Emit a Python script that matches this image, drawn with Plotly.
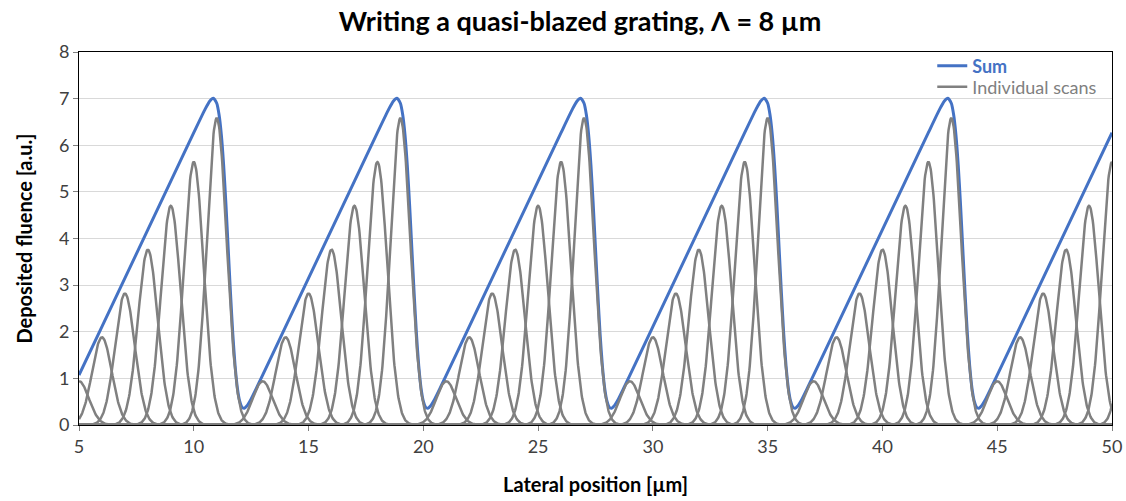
import numpy as np
import plotly.graph_objects as go

# ---- data ----
period_starts = [-3, 5, 13, 21, 29, 37, 45]          # first scan of each period [µm]
scan_offsets = [0, 1, 2, 3, 4, 5, 6]                 # scan positions within a period [µm]
scan_amplitudes = [0.94, 1.88, 2.82, 3.76, 4.70, 5.64, 6.58]  # peak fluence of each scan
scan_sigma = 0.43                                    # Gaussian width of a scan [µm]

# summed fluence profile over one period (offset from period start, value)
sum_offsets = [0, 1, 2, 3, 4, 5, 5.5, 5.7, 5.85, 6.0, 6.1, 6.2, 6.3, 6.4, 6.5,
               6.6, 6.7, 6.8, 6.9, 7.0, 7.1, 7.2, 7.3, 7.5, 7.75]
sum_values = [1.07, 2.11, 3.15, 4.19, 5.23, 6.27, 6.78, 6.95, 7.01, 6.90, 6.66, 6.23,
              5.58, 4.74, 3.78, 2.82, 1.95, 1.27, 0.79, 0.51, 0.38, 0.36, 0.40, 0.56, 0.81]

x_range = [5, 50]
x_ticks = [5, 10, 15, 20, 25, 30, 35, 40, 45, 50]
y_ticks = [0, 1, 2, 3, 4, 5, 6, 7, 8]

# ---- build traces ----
x = np.linspace(x_range[0], x_range[1], 2251)

gx, gy = [], []
for p in period_starts:
    for off, amp in zip(scan_offsets, scan_amplitudes):
        c = p + off
        s = amp * np.exp(-((x - c) ** 2) / (2 * scan_sigma ** 2))
        gx.extend(x.tolist()); gx.append(None)
        gy.extend(s.tolist()); gy.append(None)

sx, sy = [], []
for p in period_starts[1:]:
    for o, v in zip(sum_offsets, sum_values):
        xv = p + o
        if x_range[0] <= xv <= x_range[1]:
            sx.append(xv); sy.append(v)

BLUE = "#4472C4"
GRAY = "#808080"
FONT = "Lato"

fig = go.Figure()
fig.add_trace(go.Scatter(x=sx, y=sy, mode="lines",
                         line=dict(color=BLUE, width=3, shape="spline", smoothing=0.6),
                         name="<b><span style='color:%s'>Sum</span></b>" % BLUE,
                         legend="legend"))
fig.add_trace(go.Scatter(x=gx, y=gy, mode="lines",
                         line=dict(color=GRAY, width=2.5),
                         name="<span style='color:%s'>Individual scans</span>" % GRAY,
                         legend="legend2"))

leg_common = dict(xanchor="left", yanchor="middle", bgcolor="rgba(0,0,0,0)",
                  font=dict(size=18), itemwidth=30, borderwidth=0)

fig.update_layout(
    width=1126, height=501,
    margin=dict(l=79, r=14, t=52, b=76, autoexpand=False),
    paper_bgcolor="white", plot_bgcolor="white",
    font=dict(family=FONT, size=18, color="#404040"),
    title=dict(text="<b>Writing a quasi-blazed grating, Λ = 8 µm</b>",
               x=580 / 1126, xanchor="center", xref="container",
               y=1 - 22 / 501, yanchor="middle", yref="container",
               font=dict(family=FONT, size=27, color="#000000")),
    showlegend=True,
    legend=dict(x=0.826, y=0.962, **leg_common),
    legend2=dict(x=0.826, y=0.906, **leg_common),
    xaxis=dict(range=x_range, tickvals=x_ticks, showgrid=False,
               showline=True, linecolor="#000000", linewidth=1, mirror=True,
               ticks="outside", ticklen=5, tickcolor="#808080",
               title=dict(text="<b>Lateral position [µm]</b>", standoff=22,
                          font=dict(size=20, color="#000000")),
               zeroline=False),
    yaxis=dict(range=[0, 8], tickvals=y_ticks, showgrid=True, gridcolor="#D9D9D9",
               showline=True, linecolor="#000000", linewidth=1, mirror=True,
               ticks="outside", ticklen=5, tickcolor="#808080",
               title=dict(text="<b>Deposited fluence [a.u.]</b>", standoff=20,
                          font=dict(size=20, color="#000000")),
               zeroline=False),
)

fig.write_html("out.html")
